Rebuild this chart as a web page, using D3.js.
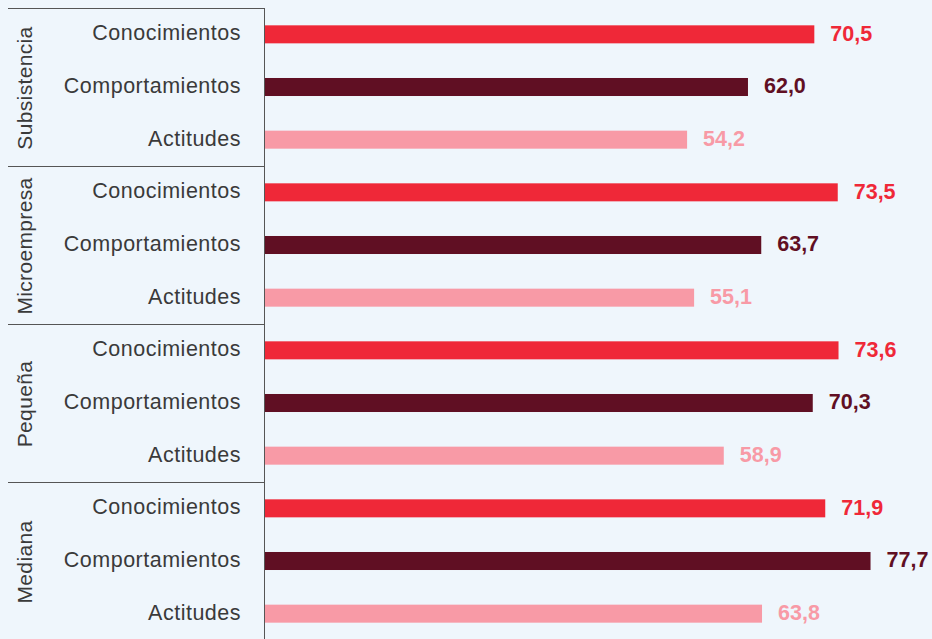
<!DOCTYPE html>
<html>
<head>
<meta charset="utf-8">
<script src="https://cdn.jsdelivr.net/npm/d3@7"></script>
<style>
  html, body { margin: 0; padding: 0; background: #eff6fc; }
  svg { display: block; }
</style>
</head>
<body>
<div id="chart"></div>
<script>
const groups = ['Subsistencia', 'Microempresa', 'Pequeña', 'Mediana'];
const dimensions = ['Conocimientos', 'Comportamientos', 'Actitudes'];
const conocimientos = [70.5, 73.5, 73.6, 71.9];
const comportamientos = [62.0, 63.7, 70.3, 77.7];
const actitudes = [54.2, 55.1, 58.9, 63.8];

const series = [conocimientos, comportamientos, actitudes];
const colors = ['#ef2838', '#600f23', '#f89aa6'];

const width = 932;
const height = 639;
const axisX = 264;
const topY = 8;
const groupH = 158;

const svg = d3.select('#chart')
  .append('svg')
  .attr('width', width)
  .attr('height', height)
  .style('font-family', '"Liberation Sans", Arial, sans-serif');

const y0 = d3.scaleBand()
  .domain(groups)
  .range([topY, topY + groupH * groups.length]);

const y1 = d3.scaleBand()
  .domain(dimensions)
  .range([0, y0.bandwidth()])
  .paddingInner(0.658)
  .paddingOuter(0.329);

const x = d3.scaleLinear()
  .domain([0, 85])
  .range([axisX, axisX + 85 * 7.806]);

const fmt = (v) => d3.format('.1f')(v).replace('.', ',');

const g = svg.selectAll('.group')
  .data(groups)
  .enter()
  .append('g')
  .attr('class', 'group')
  .attr('transform', (d) => `translate(0,${y0(d)})`);

// separator line above each group
g.append('line')
  .attr('x1', 8)
  .attr('x2', axisX)
  .attr('y1', 0.5)
  .attr('y2', 0.5)
  .style('stroke', '#555')
  .style('stroke-width', 1);

// rotated group label
g.append('text')
  .attr('transform', `translate(32,${y0.bandwidth() / 2 + 1}) rotate(-90)`)
  .attr('text-anchor', 'middle')
  .style('font-size', '21px')
  .style('letter-spacing', '0.35px')
  .style('fill', '#3a3a3a')
  .text((d) => d);

const rows = g.selectAll('.row')
  .data((d, gi) => dimensions.map((dim, di) => ({ dim, di, value: series[di][gi] })))
  .enter()
  .append('g')
  .attr('class', 'row');

rows.append('text')
  .attr('x', 241)
  .attr('y', (d) => y1(d.dim) + y1.bandwidth() / 2)
  .attr('dy', '0.28em')
  .attr('text-anchor', 'end')
  .style('font-size', '21.5px')
  .style('letter-spacing', '0.5px')
  .style('fill', '#3a3a3a')
  .text((d) => d.dim);

rows.append('rect')
  .attr('x', x(0))
  .attr('y', (d) => y1(d.dim))
  .attr('width', (d) => x(d.value) - x(0))
  .attr('height', y1.bandwidth())
  .style('fill', (d) => colors[d.di]);

rows.append('text')
  .attr('x', (d) => x(d.value) + 16)
  .attr('y', (d) => y1(d.dim) + y1.bandwidth() / 2)
  .attr('dy', '0.3em')
  .style('font-size', '21.5px')
  .style('font-weight', 'bold')
  .style('fill', (d) => colors[d.di])
  .text((d) => fmt(d.value));

// vertical axis line
svg.append('line')
  .attr('x1', axisX + 0.5)
  .attr('x2', axisX + 0.5)
  .attr('y1', topY)
  .attr('y2', height)
  .style('stroke', '#555')
  .style('stroke-width', 1);
</script>
</body>
</html>
